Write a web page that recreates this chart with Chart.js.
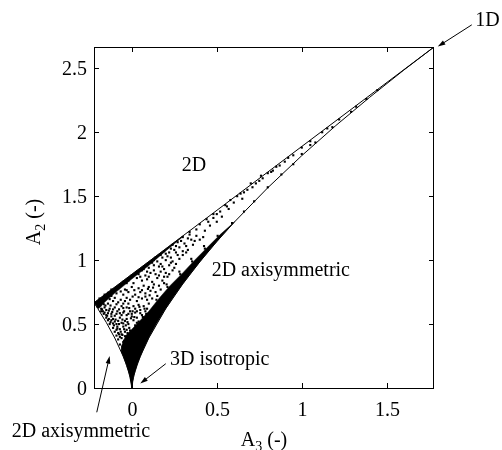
<!DOCTYPE html>
<html>
<head>
<meta charset="utf-8">
<script src="https://cdn.jsdelivr.net/npm/chart.js@4.4.1/dist/chart.umd.min.js"></script>
<style>
  html, body { margin: 0; padding: 0; background: #fff; }
  #wrap { width: 502px; height: 450px; }
</style>
</head>
<body>
<div id="wrap"><canvas id="myChart" width="502" height="450"></canvas></div>
<script>
// axes
const xRange = [-0.2222, 1.7778];
const yRange = [0, 2.6667];
const xTicks = [0, 0.5, 1, 1.5];
const yTicks = [0, 0.5, 1, 1.5, 2, 2.5];

// 2D limit (upper straight line)
const line2dA3 = [-0.2222, 1.7778];
const line2dA2 = [0.6667, 2.6667];

// axisymmetric limits (both branches)
const axiA3 = [-0.2222, -0.2, -0.15, -0.1, -0.05, -0.03, -0.02, -0.01, -0.005, -0.001, 0,
  0.001, 0.005, 0.01, 0.02, 0.03, 0.05, 0.1, 0.2, 0.3, 0.4, 0.5, 0.6, 0.8, 1.0, 1.2, 1.4, 1.6, 1.7778];
const axiA2 = [0.6667, 0.621, 0.513, 0.391, 0.247, 0.175, 0.134, 0.084, 0.053, 0.018, 0,
  0.018, 0.053, 0.084, 0.134, 0.175, 0.247, 0.391, 0.621, 0.814, 0.986, 1.145, 1.293, 1.566, 1.817, 2.052, 2.274, 2.486, 2.6667];

// solid black areas where the samples merge together
const denseCore = [
  [0, 0], [0.0129, 0.1], [0.0365, 0.2], [0.0671, 0.3], [0.1033, 0.4], [0.1444, 0.5], [0.1897, 0.6],
  [0.2392, 0.7], [0.2921, 0.8], [0.3486, 0.9], [0.4083, 1.0], [0.4711, 1.1], [0.5367, 1.2], [0.6052, 1.3],
  [0.52, 1.2], [0.445, 1.1], [0.37, 1.0], [0.30, 0.9], [0.225, 0.8], [0.16, 0.7], [0.10, 0.6],
  [0.03, 0.5], [-0.035, 0.41], [-0.06, 0.33], [-0.0605, 0.28], [-0.0365, 0.2], [-0.0129, 0.1], [0, 0]
];
const denseEdge2D = [
  [-0.2222, 0.6667], [0.3, 1.1889], [0.3, 1.183], [0.2, 1.072], [0.1, 0.958], [0.0, 0.852],
  [-0.1, 0.742], [-0.16, 0.67], [-0.195, 0.62], [-0.2222, 0.6667]
];

// scattered samples (A3, A2)
const samples = [
  [-0.07, 0.34], [-0.05, 0.36], [-0.08, 0.38], [-0.03, 0.39], [-0.09, 0.41], [-0.06, 0.42], [-0.1, 0.44],
  [-0.04, 0.44], [-0.02, 0.41], [-0.07, 0.46], [-0.11, 0.47], [-0.01, 0.45], [-0.05, 0.48], [-0.085, 0.48],
  [-0.13, 0.5], [-0.09, 0.5], [-0.06, 0.51], [-0.02, 0.5], [0.02, 0.49], [0.04, 0.52], [-0.14, 0.53],
  [-0.11, 0.54], [-0.07, 0.55], [-0.03, 0.54], [0.0, 0.56], [0.03, 0.55], [0.06, 0.57], [-0.15, 0.57],
  [-0.12, 0.58], [-0.09, 0.58], [-0.05, 0.59], [-0.01, 0.6], [0.02, 0.59], [0.05, 0.61], [0.08, 0.6],
  [-0.17, 0.6], [-0.135, 0.605], [-0.1, 0.52], [-0.125, 0.515], [-0.04, 0.525], [0.01, 0.53],
  [-0.18, 0.62], [-0.16, 0.63], [-0.13, 0.62], [-0.1, 0.63], [-0.06, 0.64], [-0.03, 0.63], [0.01, 0.64],
  [0.04, 0.65], [0.07, 0.64], [0.1, 0.66], [-0.2, 0.66], [-0.17, 0.67], [-0.14, 0.66], [-0.11, 0.68],
  [-0.08, 0.67], [-0.04, 0.68], [-0.01, 0.69], [0.03, 0.68], [0.06, 0.7], [0.09, 0.69], [0.12, 0.7],
  [-0.19, 0.7], [-0.15, 0.71], [-0.185, 0.645], [-0.155, 0.645], [-0.075, 0.615], [-0.02, 0.66],
  [-0.16, 0.73], [-0.12, 0.72], [-0.09, 0.74], [-0.05, 0.73], [-0.02, 0.75], [0.02, 0.73], [0.05, 0.75],
  [0.08, 0.74], [0.11, 0.76], [0.14, 0.75], [0.17, 0.77], [-0.12, 0.77], [-0.08, 0.78], [-0.04, 0.77],
  [0.0, 0.79], [0.04, 0.78], [0.07, 0.8], [0.1, 0.79], [0.13, 0.81], [0.16, 0.8], [0.19, 0.82],
  [-0.05, 0.83], [-0.02, 0.84], [0.01, 0.82], [0.03, 0.86], [0.06, 0.84], [0.09, 0.85], [0.12, 0.83],
  [0.15, 0.86], [0.18, 0.84], [0.21, 0.87], [0.0, 0.88], [0.04, 0.89], [0.08, 0.88], [0.11, 0.9],
  [0.14, 0.89], [0.17, 0.91], [0.2, 0.9], [0.24, 0.92],
  [0.07, 0.93], [0.1, 0.94], [0.13, 0.92], [0.16, 0.95], [0.19, 0.93], [0.22, 0.96], [0.25, 0.94],
  [0.12, 0.98], [0.15, 0.99], [0.2, 1.0], [0.24, 0.99], [0.28, 1.01],
  [0.14, 1.02], [0.17, 1.04], [0.21, 1.03], [0.26, 1.06], [0.3, 1.04], [0.19, 1.07], [0.23, 1.09],
  [0.28, 1.1], [0.33, 1.08], [0.36, 1.12],
  [0.24, 1.12], [0.27, 1.14], [0.31, 1.13], [0.35, 1.16], [0.3, 1.18], [0.38, 1.19], [0.42, 1.18], [0.34, 1.2],
  [0.34, 1.22], [0.38, 1.24], [0.43, 1.23], [0.4, 1.28], [0.46, 1.27], [0.5, 1.3], [0.44, 1.32], [0.53, 1.34],
  [0.48, 1.36], [0.52, 1.38], [0.57, 1.4], [0.55, 1.43], [0.6, 1.45], [0.58, 1.47], [0.65, 1.48],
  [0.64, 1.52], [0.68, 1.55], [0.71, 1.57], [0.7, 1.6], [0.75, 1.62], [0.77, 1.64], [0.8, 1.68],
  [0.59, 1.29], [0.66, 1.38], [0.72, 1.46], [0.8, 1.57], [0.88, 1.67], [0.95, 1.75], [1.0, 1.83],
  [1.08, 1.92], [1.18, 2.04], [1.29, 2.16], [1.38, 2.26], [1.445, 2.33],
  [0.85, 1.73], [0.92, 1.8], [1.0, 1.88], [0.83, 1.7], [0.9, 1.77], [1.05, 1.93], [1.12, 2.0],
  [0.87, 1.74], [0.95, 1.82], [1.05, 1.9],
  // extra samples, mostly the crowded lower-left part
  [-0.195, 0.64], [-0.175, 0.615], [-0.16, 0.59], [-0.145, 0.565], [-0.12, 0.53], [-0.105, 0.49],
  [-0.09, 0.455], [-0.075, 0.42], [-0.06, 0.39], [-0.045, 0.37], [-0.115, 0.595], [-0.085, 0.6],
  [-0.06, 0.57], [-0.03, 0.57], [-0.055, 0.535], [-0.095, 0.535], [-0.075, 0.5], [-0.035, 0.49],
  [-0.015, 0.47], [-0.045, 0.46], [-0.065, 0.44], [-0.025, 0.43], [-0.04, 0.405],
  [-0.165, 0.655], [-0.125, 0.645], [-0.09, 0.655], [-0.05, 0.66], [-0.015, 0.625], [0.02, 0.62],
  [0.045, 0.635], [0.075, 0.62], [0.03, 0.6], [0.0, 0.58], [0.015, 0.555], [0.05, 0.585], [0.065, 0.555],
  [-0.175, 0.685], [-0.13, 0.695], [-0.1, 0.705], [-0.065, 0.69], [-0.03, 0.705], [0.005, 0.715],
  [0.04, 0.71], [0.08, 0.715], [0.105, 0.725], [-0.14, 0.745], [-0.105, 0.76], [-0.065, 0.755],
  [-0.03, 0.765], [0.015, 0.765], [0.06, 0.765], [0.095, 0.775], [0.125, 0.785],
  [-0.06, 0.81], [-0.03, 0.82], [0.05, 0.87], [0.1, 0.87], [0.16, 0.88], [0.19, 0.87], [0.22, 0.89],
  [0.03, 0.91], [0.06, 0.92], [0.09, 0.91], [0.18, 0.95], [0.23, 0.98], [0.09, 0.96], [0.13, 0.96],
  [0.17, 0.97], [0.26, 0.97], [0.13, 1.0], [0.18, 1.02], [0.23, 1.02], [0.27, 1.04], [0.32, 1.06],
  [0.22, 1.06], [0.25, 1.08], [0.3, 1.07], [0.2, 1.05], [0.26, 1.11], [0.32, 1.11], [0.29, 1.15],
  [0.33, 1.17], [0.37, 1.15], [0.4, 1.16],
  [0.02, 0.47], [0.03, 0.51], [0.085, 0.58], [0.09, 0.62], [0.145, 0.69], [0.15, 0.72], [0.21, 0.79],
  [0.205, 0.81], [0.285, 0.89], [0.28, 0.91], [0.355, 0.99], [0.35, 1.01], [0.43, 1.09], [0.425, 1.11],
  [0.505, 1.19], [0.45, 1.3], [0.48, 1.33], [0.5, 1.36], [0.56, 1.42], [0.62, 1.5], [0.66, 1.53],
  [0.73, 1.6], [0.76, 1.66], [0.82, 1.69], [1.15, 2.03], [1.22, 2.1], [1.32, 2.2],
  [-0.2, 0.635], [-0.18, 0.6], [-0.165, 0.58], [-0.15, 0.55], [-0.135, 0.54], [-0.12, 0.56],
  [-0.1, 0.565], [-0.08, 0.525], [-0.07, 0.585], [-0.045, 0.6], [-0.02, 0.58], [-0.005, 0.545],
  [-0.025, 0.515], [-0.05, 0.505], [-0.085, 0.465], [-0.11, 0.505], [-0.14, 0.585], [-0.15, 0.61],
  [-0.11, 0.615], [-0.05, 0.625], [0.005, 0.6], [-0.03, 0.455], [-0.055, 0.415], [-0.035, 0.38],
  [-0.07, 0.4], [-0.08, 0.43]
];

document.addEventListener("DOMContentLoaded", function () {
    const ctx = document.getElementById('myChart').getContext('2d');
    const FONT = '20px "Liberation Serif", "Times New Roman", serif';
    const SUB = '14px "Liberation Serif", "Times New Roman", serif';

    const toXY = (xs, ys) => xs.map((v, i) => ({ x: v, y: ys[i] }));
    const pairs = arr => arr.map(p => ({ x: p[0], y: p[1] }));

    // text labels, positioned in data units (A3, A2)
    const notes = [
        { text: '1D', x: 2.02, y: 2.875, arrow: [2.0, 2.84, 1.8, 2.67] },
        { text: '2D', x: 0.294, y: 1.74 },
        { text: '2D axisymmetric', x: 0.47, y: 0.92 },
        { text: '3D isotropic', x: 0.225, y: 0.22, arrow: [0.2, 0.19, 0.05, 0.035] },
        { text: '2D axisymmetric', x: -0.706, y: -0.344, arrow: [-0.206, -0.19, -0.13, 0.25] }
    ];

    function drawArrow(c, x1, y1, x2, y2) {
        const ang = Math.atan2(y2 - y1, x2 - x1), h = 8;
        c.beginPath();
        c.moveTo(x1, y1);
        c.lineTo(x2 - 4 * Math.cos(ang), y2 - 4 * Math.sin(ang));
        c.stroke();
        c.beginPath();
        c.moveTo(x2, y2);
        c.lineTo(x2 - h * Math.cos(ang - 0.3), y2 - h * Math.sin(ang - 0.3));
        c.lineTo(x2 - h * Math.cos(ang + 0.3), y2 - h * Math.sin(ang + 0.3));
        c.closePath();
        c.fill();
    }

    // "A" + subscript + " (-)"
    function subTitle(c, x, y, sub) {
        c.font = FONT;
        const wA = c.measureText('A').width;
        c.font = SUB;
        const wS = c.measureText(sub).width;
        c.font = FONT;
        const wR = c.measureText(' (-)').width;
        let px = x - (wA + wS + wR) / 2;
        c.textAlign = 'left';
        c.textBaseline = 'alphabetic';
        c.fillText('A', px, y);
        c.font = SUB;
        c.fillText(sub, px + wA, y + 5);
        c.font = FONT;
        c.fillText(' (-)', px + wA + wS, y);
    }

    const frame = {
        id: 'frame',
        afterDraw(chart) {
            const { ctx: c, chartArea: a, scales: { x, y } } = chart;
            c.save();
            c.strokeStyle = '#000';
            c.fillStyle = '#000';
            c.lineWidth = 1;
            c.strokeRect(a.left + 0.5, a.top + 0.5, a.right - a.left - 1, a.bottom - a.top);

            c.font = FONT;
            c.textAlign = 'center';
            c.textBaseline = 'middle';
            xTicks.forEach(v => {
                const px = Math.round(x.getPixelForValue(v)) + 0.5;
                c.beginPath();
                c.moveTo(px, a.bottom); c.lineTo(px, a.bottom - 5);
                c.moveTo(px, a.top); c.lineTo(px, a.top + 5);
                c.stroke();
                c.fillText(String(v), px, a.bottom + 23);
            });
            c.textAlign = 'right';
            yTicks.forEach(v => {
                const py = Math.round(y.getPixelForValue(v)) + 0.5;
                c.beginPath();
                c.moveTo(a.left, py); c.lineTo(a.left + 5, py);
                c.moveTo(a.right, py); c.lineTo(a.right - 5, py);
                c.stroke();
                c.fillText(String(v), a.left - 7, py + 1);
            });

            // axis titles
            subTitle(c, (a.left + a.right) / 2, 446, '3');
            c.save();
            c.translate(40, 222);
            c.rotate(-Math.PI / 2);
            subTitle(c, 0, 0, '2');
            c.restore();

            // annotations
            notes.forEach(n => {
                c.font = FONT;
                c.textAlign = 'left';
                c.textBaseline = 'middle';
                c.fillText(n.text, x.getPixelForValue(n.x), y.getPixelForValue(n.y));
                if (n.arrow) {
                    const [x1, y1, x2, y2] = n.arrow;
                    drawArrow(c, x.getPixelForValue(x1), y.getPixelForValue(y1),
                        x.getPixelForValue(x2), y.getPixelForValue(y2));
                }
            });
            c.restore();
        }
    };

    const poly = data => ({
        data: pairs(data),
        showLine: true,
        fill: 'shape',
        backgroundColor: '#000',
        borderColor: '#000',
        borderWidth: 0.5,
        pointRadius: 0,
        tension: 0
    });

    new Chart(ctx, {
        type: 'scatter',
        data: {
            datasets: [
                {
                    label: 'samples',
                    data: pairs(samples),
                    pointStyle: 'rect',
                    pointRadius: 1.5,
                    backgroundColor: '#000',
                    borderWidth: 0
                },
                poly(denseCore),
                poly(denseEdge2D),
                {
                    label: '2D',
                    data: toXY(line2dA3, line2dA2),
                    showLine: true,
                    borderColor: '#000',
                    borderWidth: 1,
                    pointRadius: 0,
                    fill: false
                },
                {
                    label: 'axisymmetric',
                    data: toXY(axiA3, axiA2),
                    showLine: true,
                    borderColor: '#000',
                    borderWidth: 1,
                    pointRadius: 0,
                    tension: 0,
                    fill: false
                }
            ]
        },
        options: {
            responsive: false,
            animation: false,
            devicePixelRatio: 1,
            layout: { padding: { left: 94, top: 47, right: 68, bottom: 62 } },
            scales: {
                x: { type: 'linear', display: false, min: xRange[0], max: xRange[1] },
                y: { type: 'linear', display: false, min: yRange[0], max: yRange[1] }
            },
            plugins: {
                legend: { display: false },
                tooltip: { enabled: false }
            }
        },
        plugins: [frame]
    });
});
</script>
</body>
</html>
